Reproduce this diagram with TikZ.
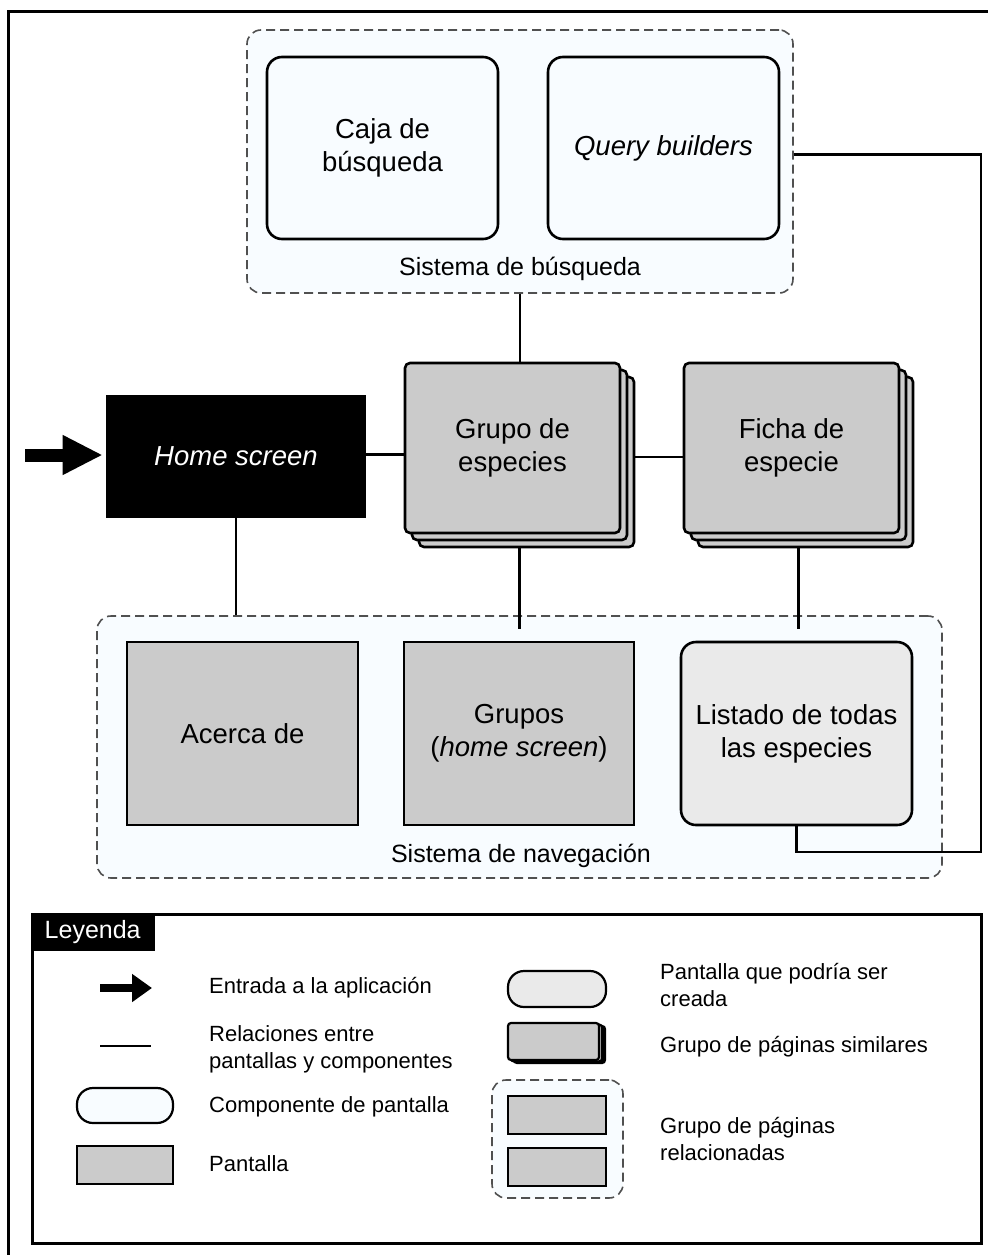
\documentclass[tikz,border=0pt]{standalone}
\usepackage{fontspec}
\setmainfont{Liberation Sans}
\usetikzlibrary{arrows.meta,shadows}

\definecolor{screengray}{HTML}{CBCBCB}
\definecolor{draftgray}{HTML}{EAEAEA}
\definecolor{paleblue}{HTML}{F8FCFF}
\definecolor{dashgray}{HTML}{505050}

\begin{document}
\begin{tikzpicture}[x=1pt,y=-1pt,
  boxfont/.style={font=\fontsize{27.5}{33}\selectfont},
  labelfont/.style={font=\fontsize{25}{30}\selectfont},
  keyfont/.style={font=\fontsize{22}{27}\selectfont},
  box/.style={draw=black, line width=2.6pt, inner sep=0pt, align=center, boxfont},
  screenbox/.style={box, fill=screengray},
  compbox/.style={box, fill=paleblue, rounded corners=15pt},
  draftbox/.style={box, fill=draftgray, rounded corners=15pt},
  stackbox/.style={screenbox, rounded corners=5pt,
    copy shadow={shadow xshift=14pt, shadow yshift=-14pt, fill=screengray, draw=black, line width=2.6pt},
    copy shadow={shadow xshift=7pt, shadow yshift=-7pt, fill=screengray, draw=black, line width=2.6pt}},
  groupbox/.style={draw=dashgray, line width=1.6pt, dash pattern=on 9pt off 5pt,
    fill=paleblue, rounded corners=14pt, inner sep=0pt},
  link/.style={draw=black, line width=2.4pt},
  keytext/.style={keyfont, align=left, anchor=base west, inner sep=0pt},
]
\useasboundingbox (0,0) rectangle (988,1255);

% frame
\draw[line width=3pt] (8,1255) -- (8,12) -- (988,12);

% search system
\node[groupbox, minimum width=546pt, minimum height=263pt] (search) at (520,161.5) {};
\node[compbox, minimum width=231pt, minimum height=182pt] (caja) at (382.5,148) {Caja de\\búsqueda};
\node[compbox, minimum width=231pt, minimum height=182pt] (qb) at (663.5,148) {\itshape Query builders};
\node[labelfont, anchor=base, inner sep=0pt] (searchlabel) at (520,275) {Sistema de búsqueda};

% navigation system
\node[groupbox, minimum width=845pt, minimum height=262pt] (nav) at (519.5,747) {};
\node[screenbox, minimum width=231pt, minimum height=183pt] (acerca) at (242.5,733.5) {Acerca de};
\node[screenbox, minimum width=230pt, minimum height=183pt] (grupos) at (519,733.5) {Grupos\\(\textit{home screen})};
\node[draftbox, minimum width=231pt, minimum height=183pt] (listado) at (796.5,733.5) {Listado de todas\\las especies};
\node[labelfont, anchor=base, inner sep=0pt] (navlabel) at (521,862) {Sistema de navegación};

% main screens
\node[box, fill=black, text=white, minimum width=258pt, minimum height=121pt] (home) at (236,456.5) {\itshape Home screen};
\node[stackbox, minimum width=215pt, minimum height=170pt] (grupo) at (512.5,448) {Grupo de\\especies};
\node[stackbox, minimum width=215pt, minimum height=170pt] (ficha) at (791.5,448) {Ficha de\\especie};

% entry arrow
\coordinate (entry) at (25,455);
\draw[line width=13pt, shorten >=3pt, -{Triangle[length=40pt,width=37pt]}] (entry) -- (entry -| home.west);

% relations
\draw[link] (search.south) -- (search.south |- grupo.north);
\draw[link] ([yshift=2pt]home.east) -- ([yshift=2pt]home.east -| grupo.west);
\draw[link] ([shift={(14pt,-9pt)}]grupo.east) -- ([yshift=-9pt]ficha.west);
\draw[link] (home.south) -- (home.south |- nav.north);
\draw[link] ([shift={(7pt,-14pt)}]grupo.south) -- ([shift={(7pt,-14pt)}]grupo.south |- nav.north);
\draw[link] ([shift={(7pt,-14pt)}]ficha.south) -- ([shift={(7pt,-14pt)}]ficha.south |- nav.north);
\coordinate (rail) at (981,852);
\draw[link] ([yshift=7pt]search.east) -| (rail) -| (listado.south);

% legend
\node[draw=black, line width=3pt, fill=white, minimum width=949pt, minimum height=329pt, inner sep=0pt] (legend) at (506.5,1078.5) {};
\node[fill=black, text=white, labelfont, minimum width=124pt, minimum height=38pt, inner sep=0pt, anchor=north west] (tab) at (legend.north west) {Leyenda};

\coordinate (keyarrowA) at (100,988);
\coordinate (keyarrowB) at (152,988);
\draw[line width=8pt, -{Triangle[length=20pt,width=27pt]}] (keyarrowA) -- (keyarrowB);
\node[keytext] (t1) at (209,993) {Entrada a la aplicación};

\coordinate (keylineA) at (100,1046);
\coordinate (keylineB) at (151,1046);
\draw[link] (keylineA) -- (keylineB);
\node[keytext] (t2) at (209,1068) {Relaciones entre\\pantallas y componentes};

\node[compbox, line width=2.2pt, rounded corners=16pt, minimum width=96pt, minimum height=35pt] (keycomp) at (125,1105.5) {};
\node[keytext] (t3) at (209,1112) {Componente de pantalla};

\node[screenbox, line width=2.2pt, minimum width=96pt, minimum height=38pt] (keyscreen) at (125,1165) {};
\node[keytext] (t4) at (209,1171) {Pantalla};

\node[draftbox, line width=2.2pt, rounded corners=16pt, minimum width=98pt, minimum height=36pt] (keydraft) at (557,989) {};
\node[keytext] (t5) at (660,1006) {Pantalla que podría ser\\creada};

\node[screenbox, line width=2.2pt, rounded corners=3pt, minimum width=91pt, minimum height=37pt,
  copy shadow={shadow xshift=6pt, shadow yshift=-3pt, fill=black, draw=black, line width=2.2pt},
  copy shadow={shadow xshift=3pt, shadow yshift=-1.5pt, fill=screengray, draw=black, line width=2.2pt}] (keystack) at (553.5,1041.5) {};
\node[keytext] (t6) at (660,1052) {Grupo de páginas similares};

\node[groupbox, minimum width=131pt, minimum height=118pt] (keygroup) at (557.5,1139) {};
\node[screenbox, line width=2.2pt, minimum width=98pt, minimum height=38pt] (keyscreenA) at (557,1115) {};
\node[screenbox, line width=2.2pt, minimum width=98pt, minimum height=38pt] (keyscreenB) at (557,1167) {};
\node[keytext] (t7) at (660,1160) {Grupo de páginas\\relacionadas};
\end{tikzpicture}
\end{document}
